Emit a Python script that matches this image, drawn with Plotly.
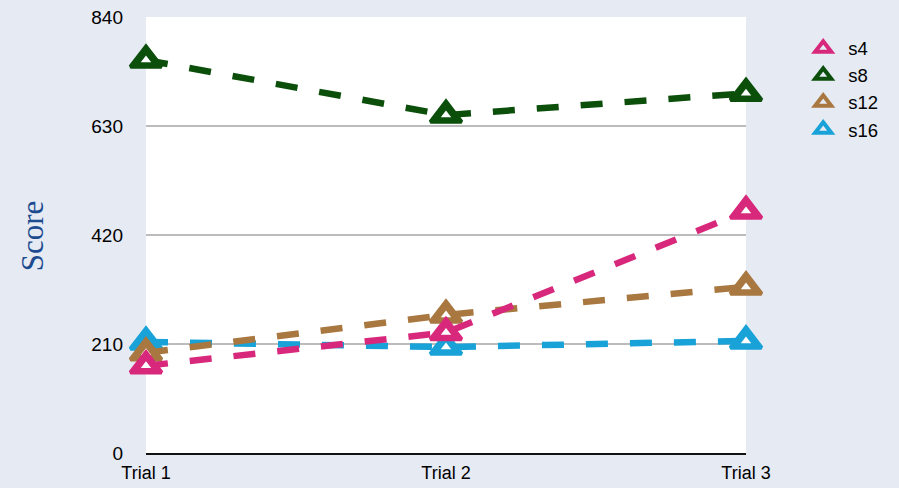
import plotly.graph_objects as go

# Scores per trial for each subject
trials = ["Trial 1", "Trial 2", "Trial 3"]
s4 = [168, 232, 466]
s8 = [757, 651, 693]
s12 = [193, 266, 320]
s16 = [214, 204, 216]

series = [
    ("s4", s4, "#d8287c"),
    ("s8", s8, "#0b4f0b"),
    ("s12", s12, "#a87840"),
    ("s16", s16, "#18a2d8"),
]

y_ticks = [0, 210, 420, 630, 840]
x_pos = list(range(len(trials)))

fig = go.Figure()
# later subjects sit underneath earlier ones
for name, vals, color in reversed(series):
    # dashed line with solid triangles
    fig.add_trace(go.Scatter(
        x=x_pos, y=vals, name=name, mode="lines+markers", showlegend=False,
        line=dict(color=color, width=6.5, dash="22px,22px"),
        marker=dict(symbol="triangle-up", size=27, color=color,
                    line=dict(color=color, width=4)),
        cliponaxis=False,
    ))
    # small white notch inside each triangle
    fig.add_trace(go.Scatter(
        x=x_pos, y=vals, mode="markers", showlegend=False, hoverinfo="skip",
        marker=dict(symbol="triangle-up", size=9, color="#ffffff",
                    line=dict(width=0)),
        cliponaxis=False,
    ))

for rank, (name, vals, color) in enumerate(series):
    # marker-only legend entry
    fig.add_trace(go.Scatter(
        x=[None], y=[None], name=name, mode="markers", legendrank=rank + 1,
        marker=dict(symbol="triangle-up-open", size=14, color=color,
                    line=dict(color=color, width=4)),
    ))

fig.update_layout(
    width=899, height=488,
    margin=dict(l=146, r=153, t=17, b=35, autoexpand=False),
    paper_bgcolor="#e5eaf3",
    plot_bgcolor="#ffffff",
    font=dict(family="Liberation Sans, Arial, sans-serif", size=19, color="#000000"),
    legend=dict(
        x=1.087, y=0.971, xanchor="left", yanchor="top",
        bgcolor="rgba(0,0,0,0)", font=dict(size=18.5),
        tracegroupgap=0, itemwidth=40,
    ),
    annotations=[dict(
        text="Score", xref="paper", yref="paper", x=-0.19, y=0.497,
        xanchor="center", yanchor="middle", textangle=-90, showarrow=False,
        font=dict(family="Liberation Serif, Times New Roman, serif", size=31, color="#1d4b8f"),
    )],
)

fig.update_xaxes(
    range=[0, 2], tickvals=x_pos, ticktext=trials,
    showgrid=False, zeroline=False,
    showline=True, linecolor="#111111", linewidth=2, automargin=False,
    ticks="", tickfont=dict(size=18), ticklabelstandoff=2,
)
fig.update_yaxes(
    range=[0, 840], tickvals=y_ticks, ticktext=[str(v) for v in y_ticks],
    showgrid=True, gridcolor="#bcbcbc", gridwidth=2, automargin=False,
    zeroline=False, showline=False, ticks="",
    tickfont=dict(size=19), ticklabelstandoff=22,
)

fig.write_html("out.html")
